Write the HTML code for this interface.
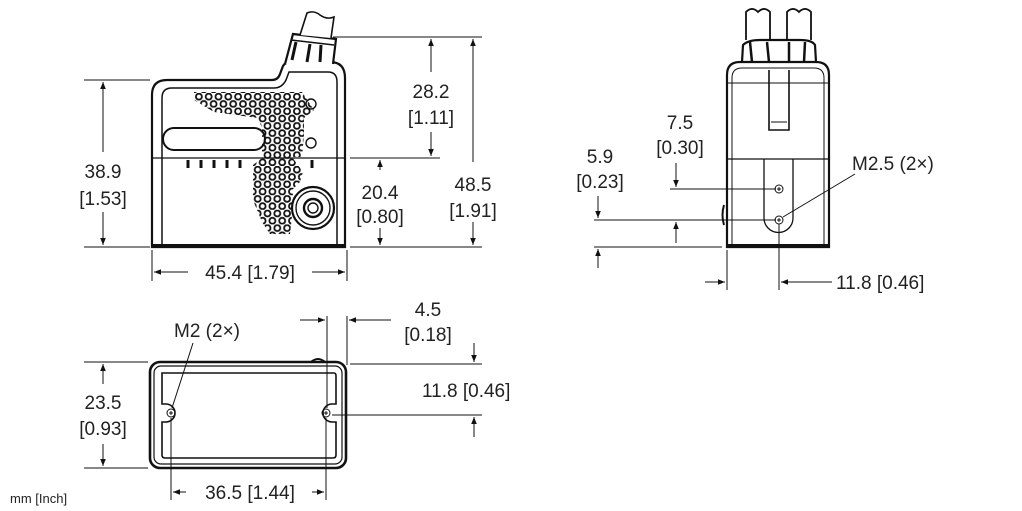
<!DOCTYPE html>
<html><head><meta charset="utf-8"><style>
html,body{margin:0;padding:0;background:#fff;}
svg{display:block;}
text{font-family:"Liberation Sans",sans-serif;font-size:19px;fill:#222;}
</style></head><body>
<svg width="1022" height="511" viewBox="0 0 1022 511" xmlns="http://www.w3.org/2000/svg">
<defs>
<marker id="a" viewBox="0 0 10 10" refX="10" refY="5" markerWidth="12" markerHeight="7" markerUnits="userSpaceOnUse" orient="auto-start-reverse"><path d="M0,1 L10,5 L0,9 z" fill="#111"/></marker>
<pattern id="dots" width="9.8" height="14.6" patternUnits="userSpaceOnUse" x="194" y="93">
<circle cx="4.9" cy="3.65" r="3" fill="none" stroke="#111" stroke-width="1.8"/>
<circle cx="0" cy="10.95" r="3" fill="none" stroke="#111" stroke-width="1.8"/>
<circle cx="9.8" cy="10.95" r="3" fill="none" stroke="#111" stroke-width="1.8"/>
</pattern>
</defs>
<g stroke="#111" fill="none" stroke-width="1">
<!-- FRONT VIEW -->
<path d="M152,247 L152,95 Q152,80 167,80 L272,80 Q278,80 280,74 L283,66 Q285,62 292,62 L330,62 Q345,62 345,78 L345,247 Z" stroke-width="2.2"/>
<path d="M162,247 L162,98 Q162,88 172,88 L274,88 Q282,88 286,80 L289,72 L328,72 Q337,72 337,82 L337,247" stroke-width="1.5"/>
<line x1="152" y1="158" x2="345" y2="158" stroke-width="1.2"/>
<line x1="152" y1="245" x2="345" y2="245" stroke-width="2"/>
<rect x="163" y="128" width="102" height="22" rx="11" stroke-width="2"/>
<circle cx="311" cy="104" r="5" stroke-width="1.4"/>
<circle cx="311" cy="143" r="5" stroke-width="1.4"/>
<g stroke-width="3"><line x1="188" y1="160" x2="188" y2="168"/><line x1="201" y1="160" x2="201" y2="168"/><line x1="214" y1="160" x2="214" y2="168"/><line x1="227" y1="160" x2="227" y2="168"/><line x1="240" y1="160" x2="240" y2="168"/><line x1="312" y1="160" x2="312" y2="168"/></g>
<polygon points="194,92 302,92 314,110 304,118 304,135 302,157 292,157 303,172 300,182 292,190 294,200 290,234 270,234 262,222 253,200 253,165 262,158 262,128 258,118 214,112 194,100" fill="url(#dots)" stroke="none"/>
<circle cx="313" cy="208" r="21" fill="#fff" stroke-width="2.2"/>
<circle cx="313" cy="208" r="17" stroke-width="1.4"/>
<circle cx="313" cy="208" r="9" stroke-width="2.4"/>
<circle cx="313" cy="208" r="5" stroke-width="1.4"/>
<!-- connector -->
<path d="M285,64 L293,34 L336,39 L333,64" stroke-width="2.2" fill="#fff"/>
<path d="M291,40 L334,45" stroke-width="1.5"/>
<path d="M296,42 L292,60 M310,44 L307,62 M321,45 L320,62" stroke-width="3"/>
<path d="M300,35 L307,13 Q314,10 320,15 Q327,20 334,17 L331,38" stroke-width="1.6" fill="#fff"/>
<!-- dims front -->
<line x1="84" y1="80" x2="150" y2="80"/>
<line x1="84" y1="247" x2="150" y2="247"/>
<line x1="103" y1="82" x2="103" y2="152" marker-start="url(#a)"/>
<line x1="103" y1="212" x2="103" y2="245" marker-end="url(#a)"/>
<line x1="333" y1="37" x2="482" y2="37"/>
<line x1="350" y1="158" x2="440" y2="158"/>
<line x1="350" y1="247" x2="482" y2="247"/>
<line x1="431" y1="39" x2="431" y2="72" marker-start="url(#a)"/>
<line x1="431" y1="132" x2="431" y2="156" marker-end="url(#a)"/>
<line x1="473" y1="39" x2="473" y2="162" marker-start="url(#a)"/>
<line x1="473" y1="222" x2="473" y2="245" marker-end="url(#a)"/>
<line x1="380" y1="160" x2="380" y2="170" marker-start="url(#a)"/>
<line x1="380" y1="228" x2="380" y2="245" marker-end="url(#a)"/>
<line x1="152" y1="250" x2="152" y2="281"/>
<line x1="347" y1="250" x2="347" y2="281"/>
<line x1="154" y1="272" x2="188" y2="272" marker-start="url(#a)"/>
<line x1="312" y1="272" x2="345" y2="272" marker-end="url(#a)"/>
<!-- SIDE VIEW -->
<path d="M727,247 L727,75 Q727,62 740,62 L816,62 Q829,62 829,75 L829,247 Z" stroke-width="2.2"/>
<path d="M732,247 L732,78 Q732,68 742,68 L814,68 Q824,68 824,78 L824,247" stroke-width="1"/>
<line x1="727" y1="83" x2="829" y2="83"/>
<line x1="727" y1="159" x2="829" y2="159" stroke-width="1.2"/>
<line x1="727" y1="245" x2="829" y2="245" stroke-width="2"/>
<path d="M769,70 L769,130 L789,130 L789,70" stroke-width="1.6"/>
<path d="M771,122 L787,122" />
<path d="M764,159 L764,218 A14.5,14.5 0 0 0 793,218 L793,159" stroke-width="1.3"/>
<circle cx="779" cy="189" r="4"/><path d="M777,189h4M779,187v4"/>
<circle cx="779" cy="220" r="4"/><path d="M777,220h4M779,218v4"/>
<path d="M724,205 Q721,215 724,225" stroke-width="2"/>
<path d="M742,62 L743,45 Q748,40 760,40 L800,40 Q812,40 815,45 L816,62" stroke-width="2.2"/>
<path d="M750,42 L752,62 M767,42 L769,62 M789,42 L789,62 M805,42 L804,62" stroke-width="2.5"/>
<path d="M746,40 L746,12 Q752,6 758,12 Q764,6 770,12 L770,40" stroke-width="1.8"/>
<path d="M787,40 L787,12 Q793,6 799,12 Q805,6 811,12 L811,40" stroke-width="1.8"/>
<!-- dims side -->
<line x1="670" y1="189" x2="776" y2="189"/>
<line x1="594" y1="220" x2="776" y2="220"/>
<line x1="594" y1="247" x2="722" y2="247"/>
<line x1="676" y1="163" x2="676" y2="187" marker-end="url(#a)"/>
<line x1="676" y1="243" x2="676" y2="222" marker-end="url(#a)"/>
<line x1="598" y1="196" x2="598" y2="218" marker-end="url(#a)"/>
<line x1="598" y1="268" x2="598" y2="249" marker-end="url(#a)"/>
<line x1="855" y1="174" x2="783" y2="217"/>
<line x1="727" y1="250" x2="727" y2="290"/>
<line x1="779" y1="224" x2="779" y2="290"/>
<line x1="705" y1="282" x2="725" y2="282" marker-end="url(#a)"/>
<line x1="832" y1="282" x2="781" y2="282" marker-end="url(#a)"/>
<!-- BOTTOM VIEW -->
<rect x="150" y="362" width="196" height="106" rx="10" stroke-width="2.6"/>
<rect x="154" y="366" width="188" height="98" rx="7" stroke-width="1.2"/>
<path d="M162,373 L334,373 Q336,373 336,376 L336,404 L332,404 A9,9 0 0 0 332,422 L336,422 L336,455 Q336,458 333,458 L165,458 Q162,458 162,455 L162,422 L166,422 A9,9 0 0 0 166,404 L162,404 Z" stroke-width="1.6"/>
<circle cx="171" cy="413" r="4"/><path d="M169,413h4M171,411v4"/>
<circle cx="326" cy="413" r="4"/><path d="M324,413h4M326,411v4"/>
<path d="M311,362 Q318,356 325,362" stroke-width="2"/>
<!-- dims bottom -->
<line x1="193" y1="343" x2="172" y2="408"/>
<line x1="327" y1="316" x2="327" y2="408"/>
<line x1="347" y1="316" x2="347" y2="365"/>
<line x1="300" y1="320" x2="325" y2="320" marker-end="url(#a)"/>
<line x1="391" y1="320" x2="349" y2="320" marker-end="url(#a)"/>
<line x1="350" y1="364" x2="482" y2="364"/>
<line x1="332" y1="415" x2="482" y2="415"/>
<line x1="474" y1="343" x2="474" y2="362" marker-end="url(#a)"/>
<line x1="474" y1="437" x2="474" y2="417" marker-end="url(#a)"/>
<line x1="84" y1="362" x2="148" y2="362"/>
<line x1="84" y1="468" x2="148" y2="468"/>
<line x1="103" y1="364" x2="103" y2="384" marker-start="url(#a)"/>
<line x1="103" y1="444" x2="103" y2="466" marker-end="url(#a)"/>
<line x1="171" y1="418" x2="171" y2="500"/>
<line x1="326" y1="418" x2="326" y2="500"/>
<line x1="173" y1="492" x2="186" y2="492" marker-start="url(#a)"/>
<line x1="312" y1="492" x2="324" y2="492" marker-end="url(#a)"/>
</g>
<g text-anchor="middle">
<text x="103" y="178">38.9</text><text x="103" y="205">[1.53]</text>
<text x="431" y="98">28.2</text><text x="431" y="124">[1.11]</text>
<text x="473" y="191">48.5</text><text x="473" y="217">[1.91]</text>
<text x="380" y="199">20.4</text><text x="380" y="223">[0.80]</text>
<text x="250" y="279">45.4 [1.79]</text>
<text x="680" y="129">7.5</text><text x="680" y="154">[0.30]</text>
<text x="600" y="163">5.9</text><text x="600" y="188">[0.23]</text>
<text x="428" y="316">4.5</text><text x="428" y="341">[0.18]</text>
<text x="103" y="409">23.5</text><text x="103" y="435">[0.93]</text>
<text x="250" y="499">36.5 [1.44]</text>
</g>
<text x="852" y="170">M2.5 (2×)</text>
<text x="836" y="289">11.8 [0.46]</text>
<text x="174" y="337">M2 (2×)</text>
<text x="422" y="397">11.8 [0.46]</text>
<text x="10" y="503" style="font-size:13px">mm [Inch]</text>
</svg>
</body></html>
